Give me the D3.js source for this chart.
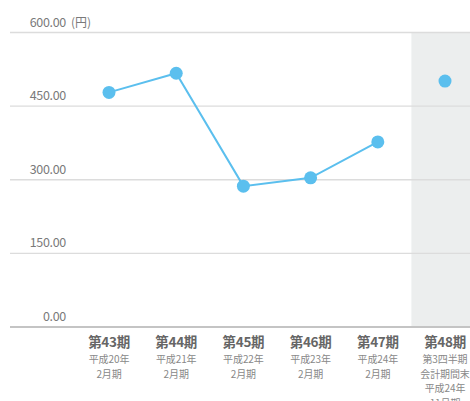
<!DOCTYPE html>
<html>
<head>
<meta charset="utf-8">
<script src="https://cdn.jsdelivr.net/npm/d3@7"></script>
<style>
  html, body { margin: 0; padding: 0; background: #fff; }
  svg { display: block; font-family: "Noto Sans CJK JP", "Noto Sans", sans-serif; }
</style>
</head>
<body>
<svg id="chart" width="470" height="401"></svg>
<script>
// Fiscal periods (first line bold), with their sub-captions
const periods = ["第43期", "第44期", "第45期", "第46期", "第47期", "第48期"];
const periodNotes = [
  ["平成20年", "2月期"],
  ["平成21年", "2月期"],
  ["平成22年", "2月期"],
  ["平成23年", "2月期"],
  ["平成24年", "2月期"],
  ["第3四半期", "会計期間末", "平成24年", "11月期"]
];
// Per-share values (円); the last is a quarter-end figure shown apart
const annualValues = [478, 517, 287, 304, 377];
const quarterValue = [501];
const yTicks = [0, 150, 300, 450, 600];

const svg = d3.select("#chart");
const W = 470;

const x = d3.scaleBand().domain(periods).range([75.4, 478.6]).padding(0);
const y = d3.scaleLinear().domain([0, 600]).range([327, 32.5]);

// Shaded band behind the quarter-end period
const last = periods[periods.length - 1];
svg.append("rect")
  .attr("x", x(last))
  .attr("y", y(600))
  .attr("width", W - x(last))
  .attr("height", y(0) - y(600))
  .attr("fill", "#eceeee");

// Horizontal grid lines
svg.append("g").selectAll("line")
  .data(yTicks)
  .join("line")
  .attr("x1", 10).attr("x2", W)
  .attr("y1", d => y(d)).attr("y2", d => y(d))
  .attr("stroke", d => d === 0 ? "#c4c4c4" : "#dcdcdc")
  .attr("stroke-width", d => d === 0 ? 2.2 : 1.3);

// Y tick labels
const yl = svg.append("g");
yl.selectAll("text")
  .data(yTicks)
  .join("text")
  .attr("x", 66)
  .attr("y", d => y(d) - 6)
  .attr("text-anchor", "end")
  .attr("font-size", 12.5)
  .attr("letter-spacing", -0.3)
  .attr("fill", "#7a7a7a")
  .text(d => d3.format(".2f")(d));
yl.append("text")
  .attr("x", 71).attr("y", y(600) - 6)
  .attr("font-size", 12)
  .attr("fill", "#7a7a7a")
  .text("(円)");

// X category labels
const xl = svg.append("g").selectAll("g")
  .data(periods)
  .join("g")
  .attr("transform", d => `translate(${x(d) + x.bandwidth() / 2},0)`);
xl.append("text")
  .attr("y", 347)
  .attr("text-anchor", "middle")
  .attr("font-size", 13.5)
  .attr("font-weight", "bold")
  .attr("letter-spacing", -0.3)
  .attr("fill", "#666")
  .text(d => d);
xl.each(function(d, i) {
  d3.select(this).selectAll("text.note")
    .data(periodNotes[i])
    .join("text")
    .attr("class", "note")
    .attr("y", (t, j) => 363 + j * 14.5)
    .attr("text-anchor", "middle")
    .attr("font-size", 10)
    .attr("letter-spacing", -0.1)
    .attr("fill", "#888")
    .text(t => t);
});

const cx = d => x(d) + x.bandwidth() / 2;
const blue = "#5bbfee";

// Annual trend line
const annual = annualValues.map((v, i) => ({ p: periods[i], v }));
svg.append("path")
  .datum(annual)
  .attr("fill", "none")
  .attr("stroke", blue)
  .attr("stroke-width", 2)
  .attr("d", d3.line().x(d => cx(d.p)).y(d => y(d.v)));

const pts = annual.concat(quarterValue.map(v => ({ p: last, v })));
svg.append("g").selectAll("circle")
  .data(pts)
  .join("circle")
  .attr("cx", d => cx(d.p))
  .attr("cy", d => y(d.v))
  .attr("r", 6.5)
  .attr("fill", blue);
</script>
</body>
</html>
